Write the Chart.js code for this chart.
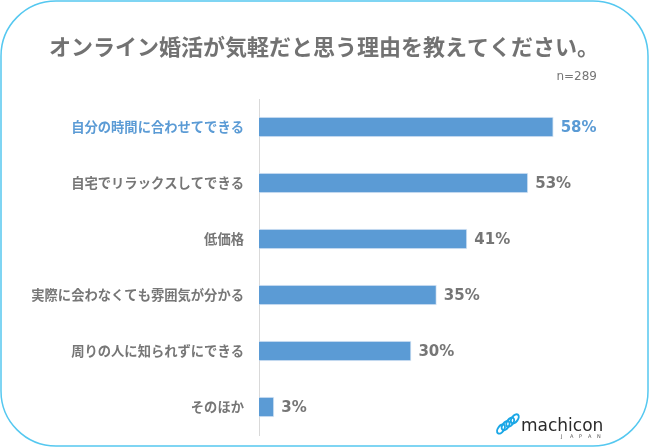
<!DOCTYPE html>
<html>
<head>
<meta charset="utf-8">
<script src="https://cdn.jsdelivr.net/npm/chart.js@4"></script>
<style>
  html, body { margin: 0; padding: 0; background: #fff; }
  #wrap { width: 650px; height: 448px; position: relative; }
</style>
</head>
<body>
<div id="wrap"><canvas id="reasonChart"></canvas></div>
<script>
const titleText = "オンライン婚活が気軽だと思う理由を教えてください。";
const sampleText = "n=289";
const reasons = [
  "自分の時間に合わせてできる",
  "自宅でリラックスしてできる",
  "低価格",
  "実際に会わなくても雰囲気が分かる",
  "周りの人に知られずにできる",
  "そのほか"
];
const percents = [58, 53, 41, 35, 30, 3];

const blue = "#5b9bd5";
const gray = "#767676";
const jpFont = "'Noto Sans CJK JP', sans-serif";

// 枠・タイトル・数値ラベル・ロゴ
const decorations = {
  id: "decorations",
  beforeDraw(chart) {
    const ctx = chart.ctx;
    ctx.save();
    ctx.fillStyle = "#fff";
    ctx.fillRect(0, 0, chart.width, chart.height);
    ctx.strokeStyle = "#55c8f0";
    ctx.lineWidth = 1.5;
    ctx.beginPath();
    ctx.roundRect(1, 1, 647, 445, 55);
    ctx.stroke();

    ctx.fillStyle = "#727272";
    ctx.font = "bold 22px " + jpFont;
    ctx.textAlign = "center";
    ctx.textBaseline = "middle";
    ctx.fillText(titleText, 324, 47);

    ctx.fillStyle = gray;
    ctx.font = "12px 'DejaVu Sans'";
    ctx.textAlign = "right";
    ctx.fillText(sampleText, 597, 77);
    ctx.restore();
  },
  afterDatasetsDraw(chart) {
    const ctx = chart.ctx;
    const meta = chart.getDatasetMeta(0);
    ctx.save();
    ctx.font = "bold 15px 'DejaVu Sans'";
    ctx.textAlign = "left";
    ctx.textBaseline = "middle";
    meta.data.forEach((bar, i) => {
      ctx.fillStyle = i === 0 ? blue : gray;
      ctx.fillText(percents[i] + "%", bar.x + 7, bar.y + 1);
    });

    // machicon ロゴ
    ctx.strokeStyle = "#1aa7e6";
    ctx.lineWidth = 2;
    for (let k = 0; k < 4; k++) {
      ctx.beginPath();
      ctx.ellipse(501 + k * 4.6, 429 - k * 3.4, 3, 5.2, Math.PI / 5, 0, Math.PI * 2);
      ctx.stroke();
    }
    ctx.fillStyle = "#2a2a2a";
    ctx.font = "17px 'DejaVu Sans'";
    ctx.textBaseline = "alphabetic";
    ctx.fillText("machicon", 521, 431);
    ctx.font = "5px 'DejaVu Sans'";
    ctx.fillStyle = "#555";
    "JAPAN".split("").forEach((c, i) => ctx.fillText(c, 561 + i * 9, 438));
    ctx.restore();
  }
};

new Chart(document.getElementById("reasonChart"), {
  type: "bar",
  data: {
    labels: reasons,
    datasets: [{
      data: percents,
      backgroundColor: blue,
      borderColor: "#dbe8f5",
      borderWidth: 1,
      borderSkipped: "left",
      barPercentage: 0.37,
      categoryPercentage: 1.0
    }]
  },
  options: {
    indexAxis: "y",
    responsive: true,
    maintainAspectRatio: false,
    animation: false,
    layout: { padding: { top: 99, bottom: 13, left: 0, right: 10 } },
    plugins: {
      legend: { display: false },
      tooltip: { enabled: false }
    },
    scales: {
      x: { display: false, min: 0, max: 75 },
      y: {
        afterFit(scale) {
          scale.width = 259;
          scale.paddingTop = 0;
          scale.paddingBottom = 0;
        },
        grid: { display: false, drawTicks: false },
        border: { display: true, color: "#d9d9d9", width: 1 },
        ticks: {
          padding: 15,
          font: { family: jpFont, size: 13.3, weight: "bold" },
          color: ctx => ctx.index === 0 ? blue : gray
        }
      }
    }
  },
  plugins: [decorations]
});
</script>
</body>
</html>
